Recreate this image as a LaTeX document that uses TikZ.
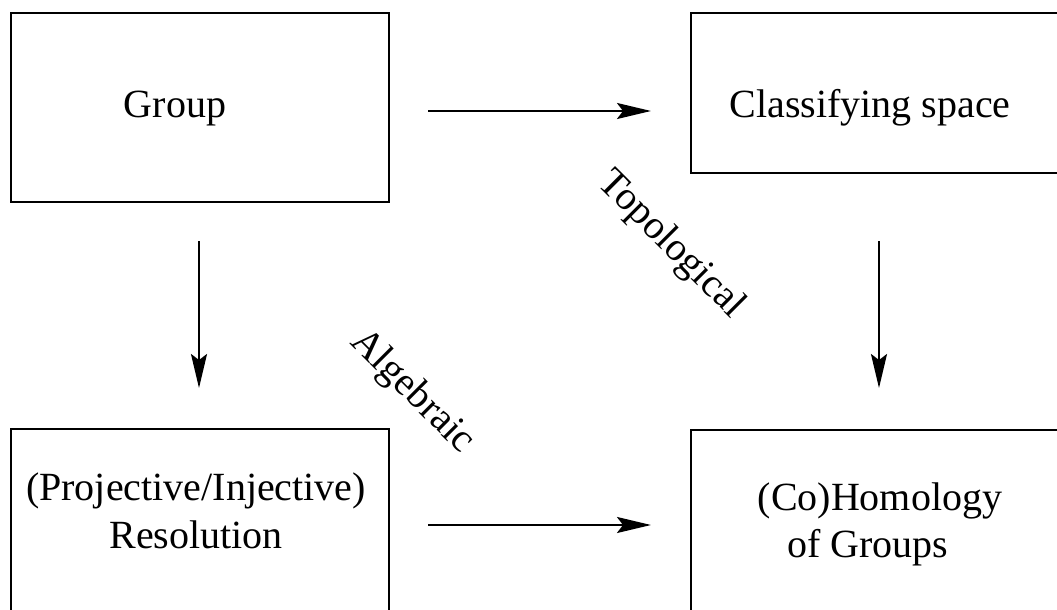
\documentclass[tikz,border=0pt]{standalone}
\usepackage{fontspec}
\setmainfont{Liberation Serif}
\usetikzlibrary{arrows.meta}
\begin{document}
\begin{tikzpicture}[x=0.5pt,y=-0.5pt,
  box/.style={draw,line width=1.1pt,rectangle,inner sep=0pt,anchor=north west},
  lbl/.style={inner sep=0pt,font=\fontsize{20}{23.5}\selectfont},
  arr/.style={line width=1.1pt,-{Stealth[length=17pt,width=8pt,inset=3pt]}}]
\useasboundingbox (0,0) rectangle (1057,610);
\clip (0,0) rectangle (1057,610);
\node[box,minimum width=189pt,minimum height=94.5pt] (g) at (10,12) {};
\node[box,minimum width=200pt,minimum height=80pt] (c) at (690,12) {};
\node[box,minimum width=189pt,minimum height=100pt] (r) at (10,428) {};
\node[box,minimum width=200pt,minimum height=100pt] (h) at (690,429) {};
\node[lbl,anchor=base] (gt) at (175,118) {Group};
\node[lbl,anchor=base] (ct) at (870,118) {Classifying space};
\node[lbl,anchor=base] (rt1) at (196,501) {(Projective/Injective)};
\node[lbl,anchor=base] (rt2) at (196,548) {Resolution};
\node[lbl,anchor=base] (ht1) at (880,510) {(Co)Homology};
\node[lbl,anchor=base] (ht2) at (868,557) {of Groups};
\node[lbl,rotate=-45] (top) at (671,245) {Topological};
\node[lbl,rotate=-45] (alg) at (412,392) {Algebraic};
\draw[arr,shorten <=19pt,shorten >=19.5pt] (g.east |- 0,111) -- (c.west |- 0,111);
\draw[arr,shorten <=19pt,shorten >=19.5pt] (r.east |- 0,525) -- (h.west |- 0,525);
\draw[arr,shorten <=19pt,shorten >=20pt] (g.south -| 199,0) -- (r.north -| 199,0);
\draw[arr,shorten <=33.5pt,shorten >=20.5pt] (c.south -| 879,0) -- (h.north -| 879,0);
\end{tikzpicture}
\end{document}
